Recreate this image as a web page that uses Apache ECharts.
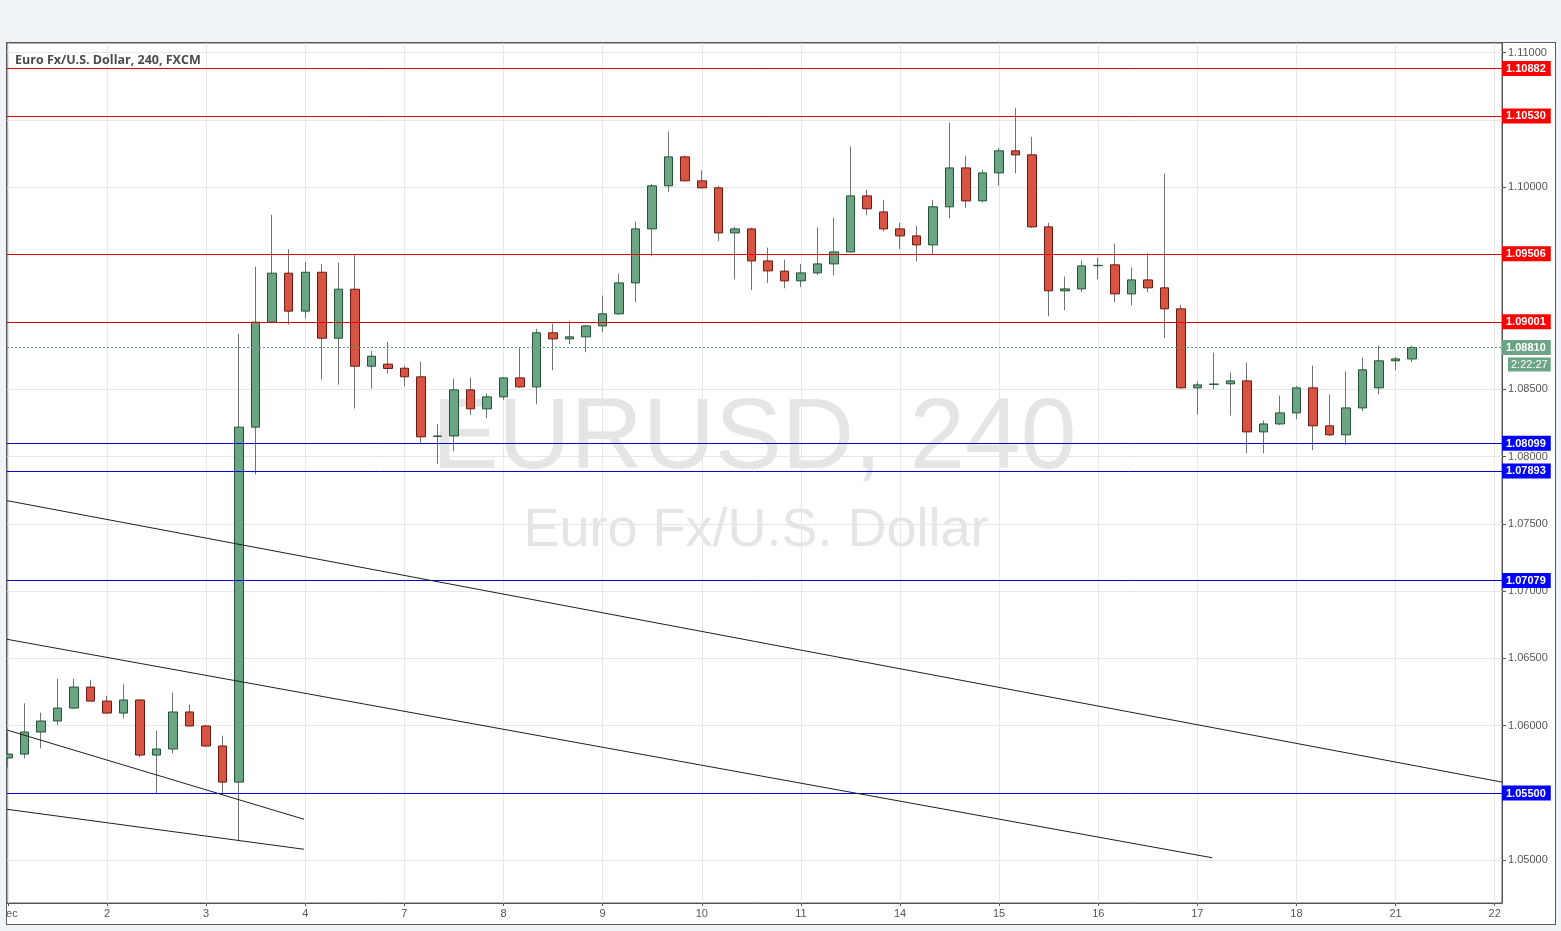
<!DOCTYPE html>
<html>
<head>
<meta charset="utf-8">
<script src="https://cdn.jsdelivr.net/npm/echarts@6/dist/echarts.min.js"></script>
<style>
html,body{margin:0;padding:0;background:#f0f3f7;width:1561px;height:931px;overflow:hidden}
#panel{position:absolute;left:6px;top:42px;width:1548px;height:881px;border:1px solid #5a5a5a;background:#fff}
#chart{position:absolute;left:6px;top:0;width:1555px;height:931px}
</style>
</head>
<body>
<div id="panel"></div>
<div id="chart"></div>
<script>
// ---- data (EUR/USD, 4h bars, FXCM) ----
const dayLabels = ['Dec','2','3','4','7','8','9','10','11','14','15','16','17','18','21','22'];
const BARS_PER_DAY = 6;
const opens  = [1.05760,1.05789,1.05953,1.06035,1.06131,1.06287,1.06183,1.06094,1.06191,1.05782,
                1.05827,1.06102,1.05998,1.05849,1.05581,1.08218,1.08998,1.09362,1.09080,1.09369,
                1.08879,1.09243,1.08671,1.08686,1.08656,1.08592,1.08149,1.08153,1.08495,1.08354,
                1.08443,1.08584,1.08517,1.08919,1.08874,1.08889,1.08970,1.09060,1.09290,1.09691,
                1.10011,1.10226,1.10048,1.09996,1.09661,1.09691,1.09453,1.09377,1.09305,1.09364,
                1.09431,1.09520,1.09936,1.09817,1.09691,1.09639,1.09572,1.09855,1.10144,1.09899,
                1.10107,1.10271,1.10241,1.09706,1.09231,1.09245,1.09418,1.09424,1.09208,1.09312,
                1.09253,1.09097,1.08510,1.08536,1.08540,1.08562,1.08183,1.08242,1.08324,1.08510,
                1.08228,1.08161,1.08361,1.08510,1.08711,1.08725];
const closes = [1.05789,1.05953,1.06035,1.06131,1.06287,1.06183,1.06094,1.06191,1.05782,1.05827,
                1.06102,1.05998,1.05849,1.05581,1.08218,1.08998,1.09362,1.09080,1.09369,1.08879,
                1.09243,1.08671,1.08745,1.08654,1.08592,1.08146,1.08152,1.08495,1.08354,1.08443,
                1.08584,1.08517,1.08919,1.08874,1.08889,1.08970,1.09060,1.09290,1.09691,1.10011,
                1.10226,1.10048,1.09996,1.09661,1.09691,1.09453,1.09379,1.09305,1.09364,1.09431,
                1.09520,1.09936,1.09840,1.09691,1.09639,1.09572,1.09855,1.10144,1.09899,1.10107,
                1.10271,1.10241,1.09706,1.09231,1.09245,1.09416,1.09420,1.09208,1.09312,1.09253,
                1.09097,1.08510,1.08532,1.08538,1.08562,1.08183,1.08242,1.08324,1.08510,1.08228,
                1.08161,1.08361,1.08644,1.08711,1.08725,1.08810];
const lows   = [1.05690,1.05757,1.05832,1.06005,1.06125,1.06180,1.06090,1.06054,1.05765,1.05492,
                1.05794,1.05995,1.05845,1.05500,1.05146,1.07868,1.08990,1.08980,1.09025,1.08572,
                1.08535,1.08356,1.08505,1.08616,1.08520,1.08099,1.07945,1.08039,1.08309,1.08285,
                1.08421,1.08512,1.08389,1.08641,1.08834,1.08775,1.08923,1.09052,1.09146,1.09488,
                1.09964,1.10045,1.09993,1.09600,1.09317,1.09236,1.09288,1.09250,1.09258,1.09347,
                1.09347,1.09515,1.09793,1.09674,1.09540,1.09451,1.09496,1.09770,1.09847,1.09889,
                1.10011,1.10105,1.09700,1.09042,1.09087,1.09223,1.09317,1.09146,1.09124,1.09221,
                1.08879,1.08505,1.08312,1.08500,1.08304,1.08025,1.08025,1.08233,1.08277,1.08047,
                1.08151,1.08086,1.08337,1.08463,1.08641,1.08701];
const highs  = [1.05955,1.06166,1.06097,1.06349,1.06349,1.06342,1.06223,1.06307,1.06195,1.05963,
                1.06245,1.06156,1.06007,1.05926,1.08911,1.09409,1.09795,1.09540,1.09446,1.09431,
                1.09439,1.09503,1.08785,1.08852,1.08673,1.08706,1.08242,1.08579,1.08587,1.08468,
                1.08588,1.08807,1.08948,1.08988,1.09008,1.08978,1.09196,1.09359,1.09746,1.10026,
                1.10414,1.10236,1.10125,1.10011,1.09708,1.09699,1.09552,1.09463,1.09431,1.09701,
                1.09775,1.10303,1.09981,1.09907,1.09736,1.09713,1.09907,1.10481,1.10234,1.10130,
                1.10293,1.10590,1.10375,1.09736,1.09337,1.09456,1.09478,1.09582,1.09404,1.09508,
                1.10102,1.09127,1.08557,1.08772,1.08624,1.08698,1.08267,1.08453,1.08525,1.08676,
                1.08460,1.08631,1.08735,1.08824,1.08740,1.08824];
const yTicks = [1.050,1.055,1.060,1.065,1.070,1.075,1.080,1.085,1.090,1.095,1.100,1.105,1.110];
const redLevels  = [1.10882,1.10530,1.09506,1.09001];
const blueLevels = [1.08099,1.07893,1.07079,1.05500];
const lastPrice = 1.08810;
const countdown = '2:22:27';
// trend lines: [barIndex, price] end points
const trendA = [[-0.0545,1.07672],[90.44,1.05581]];
const trendB = [[-0.0545,1.06642],[72.89,1.05019]];
const trendC = [[-0.0545,1.05968],[17.92,1.05305]];
const trendD = [[-0.0545,1.05379],[17.92,1.05082]];
const chartTitle = 'Euro Fx/U.S. Dollar, 240, FXCM';
const watermark1 = 'EURUSD, 240';
const watermark2 = 'Euro Fx/U.S. Dollar';

// ---- build ----
const X_MIN = -0.0545, X_MAX = 90.44;
const Y_MIN = 1.046828, Y_MAX = 1.110721;
const RED = '#e00000', BLUE = '#0000e0';
const dayTicks = dayLabels.map((d, i) => i * BARS_PER_DAY);
const candles = opens.map((o, i) => [i, o, closes[i], lows[i], highs[i]]);
const bodies = opens.map((o, i) => [i, o, closes[i], Math.min(o, closes[i]), Math.max(o, closes[i])]);
const tagValues = redLevels.concat([lastPrice], blueLevels);
const levelItems = redLevels.map(v => ({v, c: RED})).concat(blueLevels.map(v => ({v, c: BLUE})))
  .sort((a, b) => a.v - b.v);
const levelValues = levelItems.map(d => d.v);
const levelColors = levelItems.map(d => d.c);
const near = (a, b) => Math.abs(a - b) < 1e-7;
const FONT = '"Liberation Sans", Arial, sans-serif';

const chart = echarts.init(document.getElementById('chart'), null, {renderer: 'canvas'});
const trendStyle = {color: '#1e1e1e', width: 1};
const mkTrend = (pts, extra) => Object.assign({
  type: 'line', data: pts, symbol: 'none', silent: true, clip: true, z: 5,
  lineStyle: trendStyle, animation: false
}, extra || {});

const option = {
  animation: false,
  backgroundColor: 'transparent',
  grid: {left: 1, right: 59, top: 43, bottom: 28, show: true, containLabel: false, outerBoundsMode: 'none',
         borderColor: '#5a5a5a', borderWidth: 1, backgroundColor: 'transparent'},
  xAxis: {
    type: 'value', min: X_MIN, max: X_MAX,
    axisLine: {show: true, onZero: false, lineStyle: {color: '#555'}},
    axisTick: {show: true, length: 3, customValues: dayTicks, lineStyle: {color: '#555'}},
    axisLabel: {customValues: dayTicks, formatter: v => dayLabels[Math.round(v / BARS_PER_DAY)] || '',
      color: '#555', fontSize: 11, fontFamily: FONT, margin: 5},
    splitLine: {show: true, lineStyle: {color: '#e6e6e6', width: 1}}
  },
  yAxis: [{
    type: 'value', position: 'right', min: Y_MIN, max: Y_MAX,
    axisLine: {show: true, onZero: false, lineStyle: {color: '#555'}},
    axisTick: {show: true, length: 4, customValues: yTicks, lineStyle: {color: '#555'}},
    axisLabel: {customValues: yTicks, formatter: v => v.toFixed(5), color: '#555', fontSize: 11, fontFamily: FONT, margin: 6},
    splitLine: {show: true, lineStyle: {color: '#e6e6e6', width: 1}}
  }, {
    type: 'value', position: 'right', min: Y_MIN, max: Y_MAX, z: 10,
    axisLine: {show: false, onZero: false}, axisTick: {show: false}, splitLine: {show: false},
    axisLabel: {
      customValues: tagValues, margin: 0, fontFamily: FONT,
      formatter: v => {
        const s = v.toFixed(5);
        if (near(v, lastPrice)) return '{sp| }\n{g|' + s + '}\n{t0|}{t|' + countdown + '}';
        return redLevels.some(r => near(r, v)) ? '{r|' + s + '}' : '{b|' + s + '}';
      },
      rich: {
        r: {backgroundColor: '#ff0000', color: '#fff', fontWeight: 'bold', fontSize: 11, fontFamily: FONT, height: 12, padding: [2, 5, 1, 4]},
        b: {backgroundColor: '#0000ff', color: '#fff', fontWeight: 'bold', fontSize: 11, fontFamily: FONT, height: 12, padding: [2, 5, 1, 4]},
        g: {backgroundColor: '#6ba583', color: '#fff', fontWeight: 'bold', fontSize: 11, fontFamily: FONT, height: 12, padding: [2, 5, 1, 4]},
        sp: {lineHeight: 19, fontSize: 11, color: 'rgba(0,0,0,0)'},
        t0: {width: 6, lineHeight: 19},
        t: {backgroundColor: '#6ba583', color: '#fff', fontSize: 11, fontFamily: FONT, height: 12, padding: [1, 3, 1, 3]}
      }
    }
  }, {
    // support / resistance levels, drawn as crisp 1px lines above the candles
    type: 'value', position: 'right', min: Y_MIN, max: Y_MAX, z: 4,
    axisLine: {show: false, onZero: false}, axisTick: {show: false, customValues: levelValues},
    axisLabel: {show: false},
    splitLine: {show: true, lineStyle: {color: levelColors, width: 1, type: 'solid'}}
  }],
  graphic: [
    {type: 'text', x: 748, y: 440, z: -1, silent: true,
     style: {text: watermark1, font: '100px ' + FONT, fill: '#e5e5e5', textAlign: 'center', textVerticalAlign: 'middle'}},
    {type: 'text', x: 750, y: 531, z: -1, silent: true,
     style: {text: watermark2, font: '54px ' + FONT, fill: '#e5e5e5', textAlign: 'center', textVerticalAlign: 'middle'}},
    {type: 'text', x: 9, y: 60, z: 10, silent: true,
     style: {text: chartTitle, font: 'bold 12.5px "Open Sans", sans-serif', fill: '#4a4a4a', textAlign: 'left', textVerticalAlign: 'middle'}}
  ],
  series: [
    {type: 'candlestick', name: 'wicks', data: candles, encode: {x: 0, y: [1, 2, 3, 4]},
     barWidth: 1, z: 2, silent: true,
     itemStyle: {color: '#737373', color0: '#737373', borderColor: '#737373', borderColor0: '#737373', borderWidth: 1}},
    {type: 'candlestick', name: 'bodies', data: bodies, encode: {x: 0, y: [1, 2, 3, 4]},
     barWidth: 9, z: 3, silent: true,
     itemStyle: {color: '#6ba583', color0: '#d75442', borderColor: '#225437', borderColor0: '#6b1a12', borderWidth: 1}},
    mkTrend(trendA, {
      markLine: {
        silent: true, symbol: ['none', 'none'], label: {show: false}, animation: false, precision: 6,
        data: [{yAxis: lastPrice, lineStyle: {color: '#5b9475', width: 1, type: [2, 2]}}]
      }
    }),
    mkTrend(trendB),
    mkTrend(trendC),
    mkTrend(trendD)
  ]
};
chart.setOption(option);
</script>
</body>
</html>
